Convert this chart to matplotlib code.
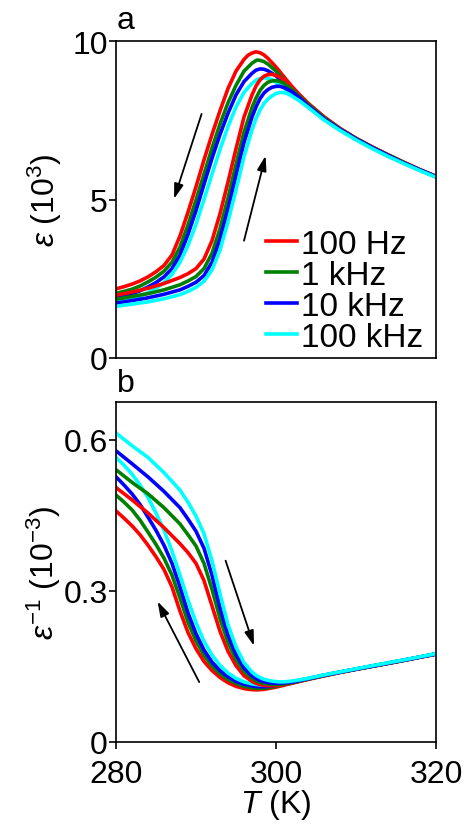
import matplotlib
matplotlib.use("Agg")
import matplotlib.pyplot as plt

plt.rcParams['font.family'] = ['Liberation Sans', 'DejaVu Sans']
plt.rcParams['mathtext.fontset'] = 'custom'
plt.rcParams['mathtext.rm'] = 'Liberation Sans'
plt.rcParams['mathtext.it'] = 'Liberation Sans:italic'
plt.rcParams['mathtext.bf'] = 'Liberation Sans:bold'

# ---------------- data (epsilon in 10^3) ----------------
labels = ["100 Hz", "1 kHz", "10 kHz", "100 kHz"]
colors = ["#ff0000", "#008000", "#0000ff", "#00ffff"]

# cooling branch
T_cool_red = [280, 281, 282, 283, 284, 285, 286, 287, 288, 289, 290, 291, 292, 293, 294, 295, 296, 296.5, 297, 297.5, 298, 298.5, 299, 300, 301, 302, 303, 304, 306, 308, 310, 312, 314, 316, 318, 320]
e_cool_red = [2.18, 2.25, 2.33, 2.43, 2.56, 2.72, 2.92, 3.25, 3.85, 4.6, 5.4, 6.25, 7.05, 7.8, 8.5, 9.05, 9.42, 9.55, 9.62, 9.66, 9.63, 9.56, 9.45, 9.18, 8.87, 8.56, 8.28, 8.03, 7.6, 7.24, 6.93, 6.66, 6.41, 6.17, 5.94, 5.73]

T_cool_green = [280, 281, 282, 283, 284, 285, 286, 287, 288, 289, 290, 291, 292, 293, 294, 295, 296, 297, 297.6, 298, 298.5, 299, 300, 301, 302, 303, 304, 306, 308, 310, 312, 314, 316, 318, 320]
e_cool_green = [2.04, 2.1, 2.17, 2.27, 2.4, 2.55, 2.74, 3.02, 3.5, 4.2, 4.98, 5.8, 6.62, 7.38, 8.05, 8.6, 9.05, 9.3, 9.4, 9.39, 9.35, 9.27, 9.05, 8.78, 8.52, 8.25, 8.0, 7.58, 7.22, 6.92, 6.65, 6.4, 6.16, 5.93, 5.72]

T_cool_blue = [280, 281, 282, 283, 284, 285, 286, 287, 288, 289, 290, 291, 292, 293, 294, 295, 296, 297, 297.5, 298, 298.5, 299, 300, 301, 302, 303, 304, 306, 308, 310, 312, 314, 316, 318, 320]
e_cool_blue = [1.9, 1.96, 2.03, 2.12, 2.24, 2.38, 2.56, 2.82, 3.25, 3.9, 4.65, 5.48, 6.3, 7.05, 7.72, 8.3, 8.72, 8.98, 9.08, 9.12, 9.11, 9.06, 8.9, 8.68, 8.45, 8.2, 7.97, 7.56, 7.21, 6.91, 6.64, 6.39, 6.15, 5.93, 5.72]

T_cool_cyan = [280, 281, 282, 283, 284, 285, 286, 287, 288, 289, 290, 291, 292, 293, 294, 295, 296, 297, 297.5, 298, 298.5, 299, 299.5, 300, 301, 302, 303, 304, 306, 308, 310, 312, 314, 316, 318, 320]
e_cool_cyan = [1.77, 1.82, 1.88, 1.96, 2.06, 2.2, 2.38, 2.64, 3.02, 3.55, 4.22, 5.0, 5.8, 6.58, 7.3, 7.92, 8.38, 8.66, 8.76, 8.82, 8.84, 8.82, 8.78, 8.7, 8.52, 8.33, 8.12, 7.92, 7.52, 7.19, 6.89, 6.62, 6.37, 6.14, 5.92, 5.71]

# heating branch
T_heat_red = [280, 282, 284, 286, 288, 289, 290, 291, 292, 293, 294, 295, 296, 297, 297.5, 298, 298.5, 299, 299.5, 300, 300.5, 301, 302, 303, 304, 306, 308, 310, 312, 314, 316, 318, 320]
e_heat_red = [1.98, 2.08, 2.2, 2.35, 2.54, 2.66, 2.82, 3.12, 3.7, 4.55, 5.55, 6.6, 7.6, 8.3, 8.58, 8.77, 8.89, 8.94, 8.95, 8.92, 8.86, 8.77, 8.55, 8.29, 8.04, 7.61, 7.24, 6.93, 6.66, 6.41, 6.17, 5.94, 5.73]

T_heat_green = [280, 282, 284, 286, 288, 289, 290, 291, 292, 293, 294, 295, 296, 297, 297.5, 298, 298.5, 299, 299.5, 300, 300.5, 301, 302, 303, 304, 306, 308, 310, 312, 314, 316, 318, 320]
e_heat_green = [1.85, 1.94, 2.03, 2.15, 2.31, 2.43, 2.57, 2.82, 3.3, 4.08, 5.05, 6.1, 7.12, 7.9, 8.2, 8.44, 8.6, 8.7, 8.74, 8.75, 8.72, 8.66, 8.47, 8.23, 8.0, 7.58, 7.22, 6.92, 6.65, 6.4, 6.16, 5.93, 5.72]

T_heat_blue = [280, 282, 284, 286, 288, 289, 290, 291, 292, 293, 294, 295, 296, 297, 297.5, 298, 298.5, 299, 299.5, 300, 300.5, 301, 302, 303, 304, 306, 308, 310, 312, 314, 316, 318, 320]
e_heat_blue = [1.73, 1.81, 1.9, 2.01, 2.15, 2.26, 2.39, 2.6, 3.02, 3.75, 4.7, 5.75, 6.8, 7.6, 7.92, 8.18, 8.36, 8.47, 8.54, 8.57, 8.57, 8.53, 8.4, 8.19, 7.96, 7.55, 7.21, 6.91, 6.64, 6.39, 6.15, 5.93, 5.72]

T_heat_cyan = [280, 282, 284, 286, 288, 289, 290, 291, 292, 293, 294, 295, 296, 297, 297.5, 298, 298.5, 299, 299.5, 300, 300.5, 301, 301.5, 302, 303, 304, 306, 308, 310, 312, 314, 316, 318, 320]
e_heat_cyan = [1.63, 1.7, 1.77, 1.87, 2.0, 2.1, 2.23, 2.42, 2.78, 3.4, 4.3, 5.3, 6.35, 7.2, 7.55, 7.82, 8.03, 8.17, 8.27, 8.34, 8.38, 8.37, 8.33, 8.26, 8.1, 7.91, 7.51, 7.18, 6.88, 6.61, 6.36, 6.13, 5.91, 5.7]

cooling = [(T_cool_red, e_cool_red), (T_cool_green, e_cool_green),
           (T_cool_blue, e_cool_blue), (T_cool_cyan, e_cool_cyan)]
heating = [(T_heat_red, e_heat_red), (T_heat_green, e_heat_green),
           (T_heat_blue, e_heat_blue), (T_heat_cyan, e_heat_cyan)]

top_yticks = [0, 5, 10]
top_yticklabels = ["0", "5", "10"]
bot_yticks = [0, 0.3, 0.6]
bot_yticklabels = ["0", "0.3", "0.6"]
xticks = [280, 300, 320]
xticklabels = ["280", "300", "320"]

# arrows (tail, head) in data coords
top_arrows = [((290.7, 7.70), (287.25, 5.02)), ((296.0, 3.70), (298.7, 6.38))]
bot_arrows = [((290.4, 0.119), (285.2, 0.279)), ((293.7, 0.360), (297.25, 0.191))]

# ---------------- figure ----------------
W, H = 469, 829
fig = plt.figure(figsize=(W / 100, H / 100), dpi=100)
ax1 = fig.add_axes([116 / W, 1 - 359 / H, 320 / W, 317 / H])
ax2 = fig.add_axes([116 / W, 1 - 743 / H, 320 / W, 340 / H])

FS = 23
LFS = 24
LW = 2.6

for (T, e), c, lab in zip(cooling, colors, labels):
    ax1.plot(T, e, color=c, lw=LW, label=lab)
for (T, e), c in zip(heating, colors):
    ax1.plot(T, e, color=c, lw=LW)

for (T, e), c in zip(cooling, colors):
    ax2.plot(T, [1.0 / v for v in e], color=c, lw=LW)
for (T, e), c in zip(heating, colors):
    ax2.plot(T, [1.0 / v for v in e], color=c, lw=LW)

for ax, arrows in ((ax1, top_arrows), (ax2, bot_arrows)):
    for tail, head in arrows:
        ax.annotate("", xy=head, xytext=tail,
                    arrowprops=dict(arrowstyle="-|>,head_length=0.9,head_width=0.28",
                                    color="black", lw=1.3, shrinkA=0, shrinkB=0))

ax1.set_xlim(280, 320)
ax1.set_ylim(0, 10)
ax2.set_xlim(280, 320)
ax2.set_ylim(0, 0.675)

ax1.set_yticks(top_yticks)
ax1.set_yticklabels(top_yticklabels)
ax1.set_xticks([])
ax2.set_yticks(bot_yticks)
ax2.set_yticklabels(bot_yticklabels)
ax2.set_xticks(xticks)
ax2.set_xticklabels(xticklabels)

for ax in (ax1, ax2):
    for s in ax.spines.values():
        s.set_linewidth(1.2)
    ax.tick_params(axis='y', direction='out', length=5, width=1.2, labelsize=FS, pad=1)
ax2.tick_params(axis='x', direction='out', length=5, width=1.2, labelsize=FS, pad=7)

ax1.set_ylabel(r'$\varepsilon$ (10$^3$)', fontsize=FS, labelpad=6)
ax2.set_ylabel(r'$\varepsilon^{\mathregular{-1}}$ (10$^{\mathregular{-3}}$)', fontsize=FS, labelpad=0)
ax2.set_xlabel(r'$T$ (K)', fontsize=FS, labelpad=-1)

fig.text(117 / W, 1 - 29 / H, "a", fontsize=FS, ha='left', va='baseline')
fig.text(117 / W, 1 - 392 / H, "b", fontsize=FS, ha='left', va='baseline')

leg = ax1.legend(loc='lower right', frameon=False, fontsize=LFS,
                 handlelength=0.95, handletextpad=0.1, labelspacing=0.0,
                 borderaxespad=0.0, bbox_to_anchor=(1.0, -0.025))

fig.savefig("out.png", dpi=100)
